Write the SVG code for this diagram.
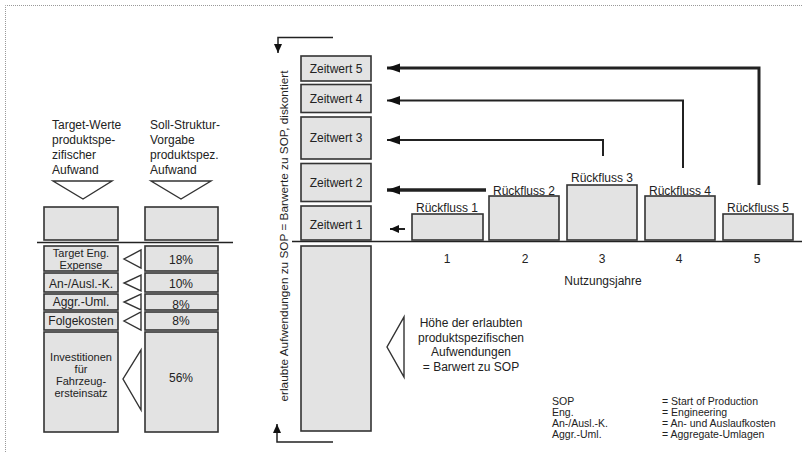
<svg xmlns="http://www.w3.org/2000/svg" width="803" height="452" viewBox="0 0 803 452">
<style>
text{font-family:"Liberation Sans",Arial,sans-serif;font-size:12px;fill:#222}
.c{text-anchor:middle}
.s{font-size:11px}
.lg{font-size:10.5px}
.box{fill:#e3e3e3;stroke:#333;stroke-width:1.6}
.tri{fill:#fff;stroke:#333;stroke-width:1.4}
.ln{fill:none;stroke:#222}
.frame{fill:none;stroke:#999;stroke-width:1;stroke-dasharray:1 1}
</style>
<defs>
<marker id="ah" markerUnits="userSpaceOnUse" markerWidth="14" markerHeight="10" refX="13" refY="4.5" orient="auto">
<path d="M0,0 L13,4.5 L0,9 z" fill="#111"/>
</marker>
<marker id="ahs" markerUnits="userSpaceOnUse" markerWidth="10" markerHeight="10" refX="9" refY="4" orient="auto">
<path d="M0,0 L9,4 L0,8 z" fill="#111"/>
</marker>
</defs>
<rect width="803" height="452" fill="#fff"/>
<path class="frame" d="M5.5,452 V5.5 H803"/>

<!-- left column headers -->
<g id="hdr-target">
<text x="52" y="129">Target-Werte</text>
<text x="52" y="144">produktspe-</text>
<text x="52" y="159">zifischer</text>
<text x="52" y="174">Aufwand</text>
<polygon class="tri" points="53,181 112,181 83,199"/>
</g>
<g id="hdr-soll">
<text x="150" y="129">Soll-Struktur-</text>
<text x="150" y="144">Vorgabe</text>
<text x="150" y="159">produktspez.</text>
<text x="150" y="174">Aufwand</text>
<polygon class="tri" points="151,181 211,181 181,199"/>
</g>
<g id="box-top-left"><rect class="box" x="44" y="207" width="74" height="33"/></g>
<g id="box-top-right"><rect class="box" x="145" y="207" width="73" height="33"/></g>

<g id="connectors">
<line class="ln" x1="37" y1="242.5" x2="233" y2="242.5" stroke-width="1.5"/>
<line class="ln" x1="292" y1="241.5" x2="802" y2="241.5" stroke-width="1.5"/>
<!-- top and bottom axis arrows -->
<path class="ln" d="M333,37.5 H278 V53" stroke-width="1.5" marker-end="url(#ahs)"/>
<path class="ln" d="M333,442 H277 V424" stroke-width="1.5" marker-end="url(#ahs)"/>
<!-- Zeitwert arrows -->
<path class="ln" d="M759,185 V68 H387" stroke-width="3" marker-end="url(#ah)"/>
<path class="ln" d="M759,68 V185" stroke-width="1.5"/>
<path class="ln" d="M683,168 V100.5 H387" stroke-width="2" marker-end="url(#ah)"/>
<path class="ln" d="M683,101 V168" stroke-width="1.5"/>
<path class="ln" d="M603,156 V140 H387" stroke-width="2" marker-end="url(#ah)"/>
<path class="ln" d="M486,190 H387" stroke-width="3.5" marker-end="url(#ah)"/>
<path class="ln" d="M405,229 H390" stroke-width="2" marker-end="url(#ahs)"/>
</g>

<!-- left breakdown boxes -->
<g id="target-eng">
<rect class="box" x="44" y="246" width="74" height="25"/>
<text class="c s" x="81" y="257">Target Eng.</text>
<text class="c s" x="81" y="269">Expense</text>
<polygon class="tri" points="141,250 141,268 124,259"/>
<rect class="box" x="145" y="246" width="73" height="25"/>
<text class="c" x="181" y="264">18%</text>
</g>
<g id="an-ausl">
<rect class="box" x="44" y="273" width="74" height="19"/>
<text class="c" x="81" y="288">An-/Ausl.-K.</text>
<polygon class="tri" points="141,275 141,291 124,283"/>
<rect class="box" x="145" y="273" width="73" height="19"/>
<text class="c" x="181" y="288">10%</text>
</g>
<g id="aggr-uml">
<rect class="box" x="44" y="294" width="74" height="16"/>
<text class="c" x="81" y="306">Aggr.-Uml.</text>
<polygon class="tri" points="141,294 141,310 124,302"/>
<rect class="box" x="145" y="294" width="73" height="16"/>
<text class="c" x="181" y="309">8%</text>
</g>
<g id="folgekosten">
<rect class="box" x="44" y="312" width="74" height="18"/>
<text class="c" x="81" y="325">Folgekosten</text>
<polygon class="tri" points="141,312 141,330 124,321"/>
<rect class="box" x="145" y="312" width="73" height="18"/>
<text class="c" x="181" y="325">8%</text>
</g>
<g id="investitionen">
<rect class="box" x="44" y="332" width="74" height="100"/>
<text class="c s" x="81" y="361">Investitionen</text>
<text class="c s" x="81" y="373">für</text>
<text class="c s" x="81" y="385">Fahrzeug-</text>
<text class="c s" x="81" y="397">ersteinsatz</text>
<polygon class="tri" points="141,350 141,410 123,379"/>
<rect class="box" x="145" y="332" width="73" height="100"/>
<text class="c" x="181" y="382">56%</text>
</g>

<!-- vertical axis label -->
<g id="axis-label">
<text class="c" style="font-size:11.8px" transform="translate(288,236) rotate(-90)">erlaubte Aufwendungen zu SOP = Barwerte zu SOP, diskontiert</text>
</g>

<!-- Zeitwert stack -->
<g id="zeitwert-5"><rect class="box" x="301" y="56" width="70" height="25"/><text class="c" x="336" y="73">Zeitwert 5</text></g>
<g id="zeitwert-4"><rect class="box" x="301" y="84.5" width="70" height="28"/><text class="c" x="336" y="103">Zeitwert 4</text></g>
<g id="zeitwert-3"><rect class="box" x="301" y="117" width="70" height="42"/><text class="c" x="336" y="142">Zeitwert 3</text></g>
<g id="zeitwert-2"><rect class="box" x="301" y="163.5" width="70" height="38"/><text class="c" x="336" y="187">Zeitwert 2</text></g>
<g id="zeitwert-1"><rect class="box" x="301" y="206" width="70" height="34"/><text class="c" x="336" y="229">Zeitwert 1</text></g>
<g id="barwert-box"><rect class="box" x="301" y="246" width="70" height="185"/></g>

<g id="hoehe-note">
<polygon class="tri" points="404,317 404,377 387,347"/>
<text class="c" x="471" y="327">Höhe der erlaubten</text>
<text class="c" x="471" y="342">produktspezifischen</text>
<text class="c" x="471" y="356">Aufwendungen</text>
<text class="c" x="471" y="371">= Barwert zu SOP</text>
</g>

<!-- Rückfluss bars -->
<g id="rueckfluss-1"><rect class="box" x="412" y="214" width="71" height="26"/><text class="c" x="447" y="212">Rückfluss 1</text></g>
<g id="rueckfluss-2"><rect class="box" x="489" y="196" width="70" height="44"/><text class="c" x="524" y="195">Rückfluss 2</text></g>
<g id="rueckfluss-3"><rect class="box" x="567" y="185" width="70" height="55"/><text class="c" x="602" y="182">Rückfluss 3</text></g>
<g id="rueckfluss-4"><rect class="box" x="645" y="196" width="70" height="44"/><text class="c" x="680" y="195">Rückfluss 4</text></g>
<g id="rueckfluss-5"><rect class="box" x="723" y="214" width="70" height="26"/><text class="c" x="758" y="212">Rückfluss 5</text></g>

<g id="years">
<text class="c" x="447" y="263">1</text>
<text class="c" x="525" y="263">2</text>
<text class="c" x="602" y="263">3</text>
<text class="c" x="679" y="263">4</text>
<text class="c" x="757" y="263">5</text>
<text class="c" x="603" y="285">Nutzungsjahre</text>
</g>

<g id="legend">
<text class="lg" x="552" y="405">SOP</text><text class="lg" x="662" y="405">= Start of Production</text>
<text class="lg" x="552" y="416">Eng.</text><text class="lg" x="662" y="416">= Engineering</text>
<text class="lg" x="552" y="427">An-/Ausl.-K.</text><text class="lg" x="662" y="427">= An- und Auslaufkosten</text>
<text class="lg" x="552" y="438">Aggr.-Uml.</text><text class="lg" x="662" y="438">= Aggregate-Umlagen</text>
</g>
</svg>
